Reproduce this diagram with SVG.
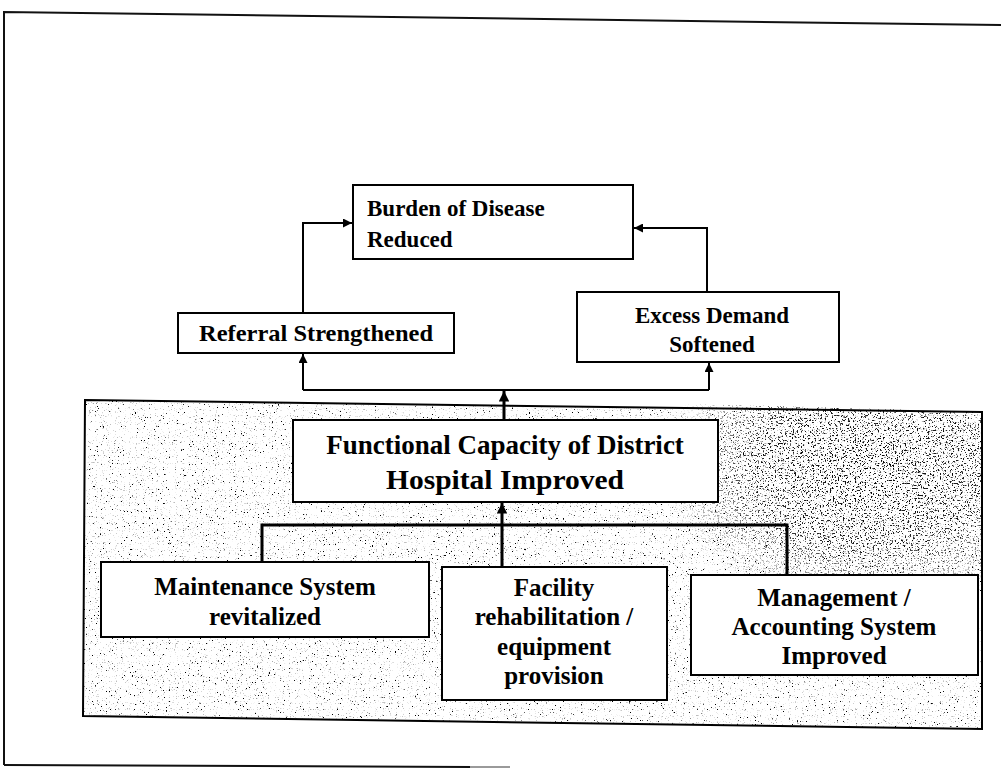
<svg xmlns="http://www.w3.org/2000/svg" width="1001" height="776" viewBox="0 0 1001 776">
  <style>
    .box { fill: #ffffff; stroke: #000000; stroke-width: 2; }
    .wire { fill: none; stroke: #000000; stroke-width: 2; }
    .wire-b { fill: none; stroke: #000000; stroke-width: 3; }
    .frame { fill: none; stroke: #111111; stroke-width: 2; }
    .t { font-family: "Liberation Serif", "Times New Roman", serif; font-weight: bold; fill: #000000; text-anchor: middle; }
    .t-up { font-size: 23px; }
    .t-main { font-size: 27px; }
    .t-low { font-size: 25px; }
  </style>
  <defs>
    <marker id="head" viewBox="0 0 10 10" refX="10" refY="5" markerWidth="4.5" markerHeight="4.5" orient="auto" markerUnits="strokeWidth">
      <path d="M0,0 L10,5 L0,10 Z" fill="#000000"/>
    </marker>
    <marker id="head-b" viewBox="0 0 10 10" refX="10" refY="5" markerWidth="3.5" markerHeight="3.5" orient="auto" markerUnits="strokeWidth">
      <path d="M0,0 L10,5 L0,10 Z" fill="#000000"/>
    </marker>
    <!-- photocopy grain for the shaded panel: sparse dark flecks -->
    <filter id="grain" x="0" y="0" width="100%" height="100%" filterUnits="objectBoundingBox">
      <feTurbulence type="fractalNoise" baseFrequency="0.65" numOctaves="2" seed="7" result="noise"/>
      <feColorMatrix in="noise" type="matrix" values="0 0 0 0 0  0 0 0 0 0  0 0 0 0 0  16 0 0 0 -11.3" result="dots"/>
      <feComposite in="dots" in2="SourceAlpha" operator="in"/>
    </filter>
    <!-- softer grey flecks -->
    <filter id="grain-grey" x="0" y="0" width="100%" height="100%" filterUnits="objectBoundingBox">
      <feTurbulence type="fractalNoise" baseFrequency="0.85" numOctaves="1" seed="23" result="noise"/>
      <feColorMatrix in="noise" type="matrix" values="0 0 0 0 0.5  0 0 0 0 0.5  0 0 0 0 0.5  10 0 0 0 -6.5" result="dots"/>
      <feComposite in="dots" in2="SourceAlpha" operator="in"/>
    </filter>
    <!-- heavier grain on the upper right of the panel -->
    <filter id="grain-dense" x="0" y="0" width="100%" height="100%" filterUnits="objectBoundingBox">
      <feTurbulence type="fractalNoise" baseFrequency="0.6" numOctaves="2" seed="11" result="noise"/>
      <feColorMatrix in="noise" type="matrix" values="0 0 0 0 0  0 0 0 0 0  0 0 0 0 0  12 0 0 0 -7.2" result="dots"/>
      <feComposite in="dots" in2="SourceAlpha" operator="in"/>
    </filter>
    <radialGradient id="fade" cx="0.62" cy="0.3" r="0.62">
      <stop offset="0" stop-color="#fff" stop-opacity="1"/>
      <stop offset="0.55" stop-color="#fff" stop-opacity="0.85"/>
      <stop offset="1" stop-color="#fff" stop-opacity="0"/>
    </radialGradient>
    <mask id="dense-mask">
      <rect x="660" y="400" width="340" height="230" fill="url(#fade)"/>
    </mask>
  </defs>

  <rect x="0" y="0" width="1001" height="776" fill="#ffffff"/>

  <!-- page frame -->
  <g id="frame">
    <path class="frame" d="M4,765 L4,12 L1001,25"/>
    <path class="frame" d="M4,765 L470,767"/>
    <path d="M470,767 L510,767" stroke="#9a9a9a" stroke-width="2"/>
  </g>

  <!-- shaded panel behind the lower nodes -->
  <g id="panel">
    <polygon points="85,400 982,412 982,729 83,716" fill="#ffffff"/>
    <polygon points="85,400 982,412 982,729 83,716" fill="#000" filter="url(#grain-grey)"/>
    <polygon points="85,400 982,412 982,729 83,716" fill="#000" filter="url(#grain)"/>
    <polygon points="660,403 982,412 982,630 660,622" fill="#000" filter="url(#grain-dense)" mask="url(#dense-mask)"/>
    <polygon points="85,400 982,412 982,729 83,716" fill="none" stroke="#000" stroke-width="2"/>
  </g>

  <!-- connectors -->
  <g id="connectors">
    <path class="wire" d="M303,313 L303,223 L352,223" marker-end="url(#head)"/>
    <path class="wire" d="M707,292 L707,228 L634,228" marker-end="url(#head)"/>
    <path class="wire" d="M303,390 L709,390"/>
    <path class="wire" d="M303,390 L303,354" marker-end="url(#head)"/>
    <path class="wire" d="M709,390 L709,363" marker-end="url(#head)"/>
    <path class="wire-b" d="M504,420 L504,391" marker-end="url(#head-b)"/>
    <path class="wire-b" d="M262,562 L262,525 L787,525 L787,575"/>
    <path class="wire-b" d="M502,567 L502,503" marker-end="url(#head-b)"/>
  </g>

  <g id="burden">
    <rect class="box" x="353" y="185" width="280" height="74"/>
    <text class="t t-up" x="367" y="216" style="text-anchor:start">Burden of Disease</text>
    <text class="t t-up" x="367" y="247" style="text-anchor:start">Reduced</text>
  </g>

  <g id="referral">
    <rect class="box" x="178" y="313" width="276" height="40"/>
    <text class="t t-up" x="316" y="341" textLength="234" lengthAdjust="spacingAndGlyphs">Referral Strengthened</text>
  </g>

  <g id="excess">
    <rect class="box" x="577" y="292" width="262" height="70"/>
    <text class="t t-up" x="712" y="323">Excess Demand</text>
    <text class="t t-up" x="712" y="352">Softened</text>
  </g>

  <g id="functional">
    <rect class="box" x="293" y="420" width="425" height="82"/>
    <text class="t t-main" x="505" y="454">Functional Capacity of District</text>
    <text class="t t-main" x="505" y="489" textLength="238" lengthAdjust="spacingAndGlyphs">Hospital Improved</text>
  </g>

  <g id="maintenance">
    <rect class="box" x="101" y="562" width="328" height="75"/>
    <text class="t t-low" x="265" y="595">Maintenance System</text>
    <text class="t t-low" x="265" y="625">revitalized</text>
  </g>

  <g id="facility">
    <rect class="box" x="442" y="567" width="225" height="133"/>
    <text class="t t-low" x="554" y="596">Facility</text>
    <text class="t t-low" x="554" y="625">rehabilitation /</text>
    <text class="t t-low" x="554" y="655">equipment</text>
    <text class="t t-low" x="554" y="684">provision</text>
  </g>

  <g id="management">
    <rect class="box" x="691" y="575" width="287" height="100"/>
    <text class="t t-low" x="834" y="606">Management /</text>
    <text class="t t-low" x="834" y="635">Accounting System</text>
    <text class="t t-low" x="834" y="664">Improved</text>
  </g>
</svg>
